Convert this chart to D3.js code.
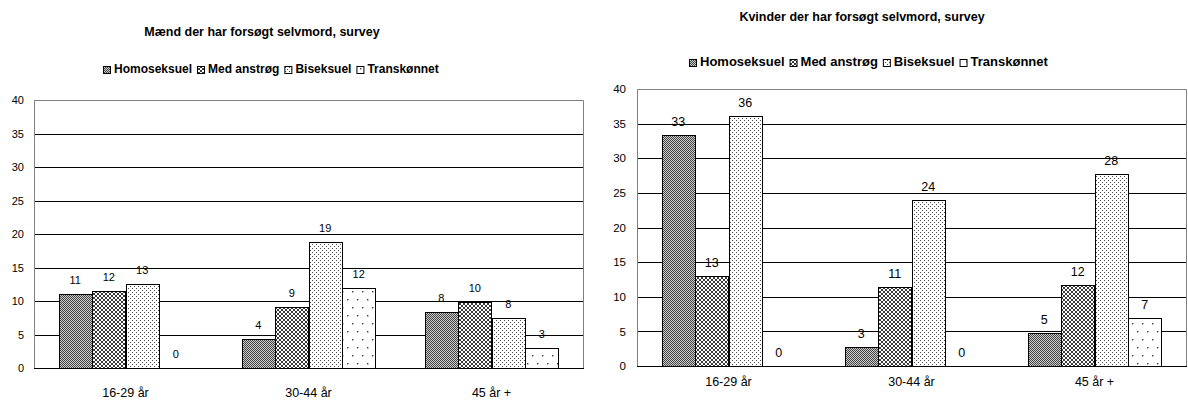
<!DOCTYPE html>
<html><head><meta charset="utf-8">
<script src="https://cdn.jsdelivr.net/npm/d3@7"></script>
<style>
body{margin:0;background:#fff}
svg{display:block}
text{font-family:"Liberation Sans",Arial,sans-serif;fill:#000}
</style>
</head><body>
<svg id="c" width="1188" height="401"></svg>
<script>
// ---- data ----
const categories = ["16-29 år", "30-44 år", "45 år +"];
const seriesNames = ["Homoseksuel", "Med anstrøg", "Biseksuel", "Transkønnet"];
const yTicks = [0, 5, 10, 15, 20, 25, 30, 35, 40];
const titles = ["Mænd der har forsøgt selvmord, survey", "Kvinder der har forsøgt selvmord, survey"];

const menHomoseksuel = [11.0, 4.4, 8.3];
const menMedAnstrog  = [11.5, 9.1, 9.8];
const menBiseksuel   = [12.5, 18.8, 7.5];
const menTranskonnet = [0, 11.9, 3.0];

const womenHomoseksuel = [33.4, 2.7, 4.8];
const womenMedAnstrog  = [13.0, 11.4, 11.7];
const womenBiseksuel   = [36.1, 24.0, 27.7];
const womenTranskonnet = [0, 0, 7.0];

const svg = d3.select("#c");
const defs = svg.append("defs");

// patterns
function pat(id, w, h, bg, dots, dotColor, size) {
  const p = defs.append("pattern").attr("id", id).attr("patternUnits", "userSpaceOnUse")
    .attr("width", w).attr("height", h);
  p.append("rect").attr("width", w).attr("height", h).attr("fill", bg);
  dots.forEach(d => p.append("rect").attr("x", d[0]).attr("y", d[1])
    .attr("width", size).attr("height", size).attr("fill", dotColor));
  return p;
}
pat("p0", 2, 2, "#cccccc", [[0,0],[1,1]], "#444444", 1);
const p1 = defs.append("pattern").attr("id", "p1").attr("patternUnits", "userSpaceOnUse")
  .attr("width", 4).attr("height", 4);
p1.append("rect").attr("width", 4).attr("height", 4).attr("fill", "#ffffff");
p1.append("path").attr("d", "M0,0L4,4M4,0L0,4").attr("stroke", "#3a3a3a").attr("stroke-width", 1.0);
pat("p2", 4, 4, "#ffffff", [[0,0],[2,2]], "#4a4a4a", 1);
pat("p3", 10, 16, "#ffffff", [[2,3],[7,11]], "#3a3a3a", 1.4);
const fills = ["url(#p0)", "url(#p1)", "url(#p2)", "url(#p3)"];

function drawChart(cfg, seriesValues) {
  const g = svg.append("g");
  const x0 = d3.scaleBand().domain(categories).range([cfg.left, cfg.right]).padding(0);
  const bw = x0.bandwidth();
  const gap = bw * 0.268;
  const x1 = d3.scaleBand().domain(seriesNames).range([gap / 2, bw - gap / 2]).padding(0);
  const y = d3.scaleLinear().domain([0, 40]).range([cfg.bottom, cfg.top]);

  // title
  g.append("text").attr("x", cfg.titleX).attr("y", cfg.titleY).attr("text-anchor", "middle")
    .attr("font-size", cfg.titleFont).attr("font-weight", "bold").text(cfg.title);

  // legend
  const lg = g.append("g");
  let cx = 0;
  seriesNames.forEach((s, i) => {
    lg.append("rect").attr("x", cx + 0.5).attr("y", -cfg.sq + 0.5).attr("width", cfg.sq).attr("height", cfg.sq)
      .attr("fill", fills[i]).attr("stroke", "#000").attr("stroke-width", 1);
    cx += cfg.sq + 4;
    const t = lg.append("text").attr("x", cx).attr("y", 0).attr("font-size", cfg.legendFont)
      .attr("font-weight", "bold").text(s);
    cx += t.node().getComputedTextLength() + 5;
  });
  const lw = cx - 5;
  lg.attr("transform", `translate(${Math.round(cfg.legendX - lw / 2)},${cfg.legendY})`);

  // gridlines
  g.append("g").selectAll("line").data(yTicks.filter(t => t > 0 && t < 40)).join("line")
    .attr("x1", cfg.left).attr("x2", cfg.right)
    .attr("y1", d => Math.round(y(d)) + 0.5).attr("y2", d => Math.round(y(d)) + 0.5)
    .attr("stroke", "#000").attr("stroke-width", 1);

  // plot border (top, right, left)
  const yt = Math.round(y(40)) + 0.5, yb = Math.round(y(0)) + 0.5;
  g.append("path").attr("d", `M${cfg.left + 0.5},${yb}V${yt}H${cfg.right + 0.5}V${yb}`)
    .attr("fill", "none").attr("stroke", "#808080").attr("stroke-width", 1);

  // y axis labels
  const ya = d3.axisLeft(y).tickValues(yTicks).tickSize(0).tickPadding(cfg.tickPad);
  const yg = g.append("g").attr("transform", `translate(${cfg.left},0)`).call(ya);
  yg.select(".domain").remove();
  yg.selectAll("text").attr("font-size", cfg.tickFont).attr("font-family", '"Liberation Sans",Arial,sans-serif').attr("fill", "#000");

  // bars
  seriesNames.forEach((s, i) => {
    const vals = seriesValues[i];
    g.append("g").selectAll("rect").data(categories).join("rect")
      .attr("x", c => Math.round(x0(c) + x1(s)) + 0.5)
      .attr("y", (c, j) => Math.round(y(vals[j])) + 0.5)
      .attr("width", Math.round(x1.bandwidth()))
      .attr("height", (c, j) => Math.round(y(0)) - Math.round(y(vals[j])))
      .attr("fill", fills[i]).attr("stroke", (c, j) => vals[j] > 0 ? "#000" : "none").attr("stroke-width", 1);
    g.append("g").selectAll("text").data(categories).join("text")
      .attr("x", c => x0(c) + x1(s) + x1.bandwidth() / 2)
      .attr("y", (c, j) => y(vals[j]) - cfg.labelOff)
      .attr("text-anchor", "middle").attr("font-size", cfg.labelFont)
      .text((c, j) => Math.round(vals[j]));
  });

  // x axis line
  g.append("line").attr("x1", cfg.left).attr("x2", cfg.right + 1).attr("y1", yb).attr("y2", yb)
    .attr("stroke", "#000").attr("stroke-width", 1);

  // category labels
  const xa = d3.axisBottom(x0).tickSize(0).tickPadding(0);
  const xg = g.append("g").attr("transform", `translate(0,${cfg.xLabelY})`).call(xa);
  xg.select(".domain").remove();
  xg.selectAll("text").attr("font-size", cfg.xFont).attr("dy", 0)
    .attr("font-family", '"Liberation Sans",Arial,sans-serif').attr("fill", "#000");
}

drawChart({
  left: 34, right: 583, top: 100, bottom: 368,
  title: titles[0], titleX: 262, titleY: 36, titleFont: 12.5,
  legendX: 271, legendY: 73, legendFont: 12, sq: 7,
  tickFont: 11, tickPad: 10, labelFont: 11, labelOff: 10,
  xLabelY: 397, xFont: 12.5
}, [menHomoseksuel, menMedAnstrog, menBiseksuel, menTranskonnet]);

drawChart({
  left: 637, right: 1186, top: 89, bottom: 366,
  title: titles[1], titleX: 862, titleY: 21, titleFont: 12.5,
  legendX: 868, legendY: 66, legendFont: 13, sq: 7,
  tickFont: 11.5, tickPad: 11, labelFont: 12.5, labelOff: 9,
  xLabelY: 386, xFont: 12.5
}, [womenHomoseksuel, womenMedAnstrog, womenBiseksuel, womenTranskonnet]);
</script>
</body></html>
